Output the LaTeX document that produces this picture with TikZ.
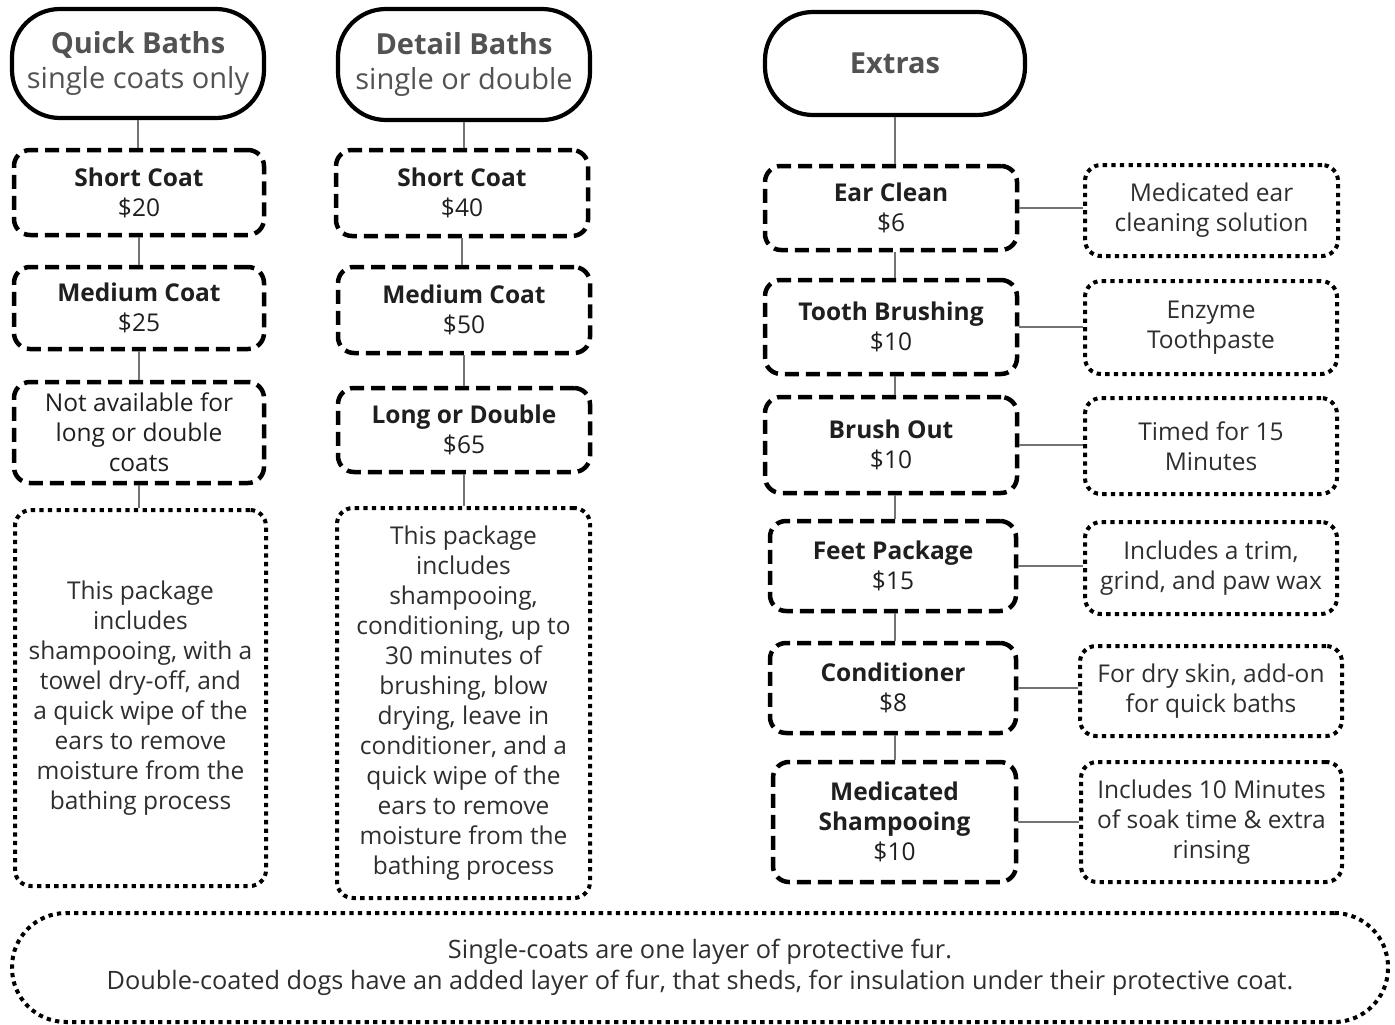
\documentclass[tikz,border=0pt]{standalone}
\usepackage{fontspec}
\setmainfont{Open Sans}
\begin{document}
\begin{tikzpicture}[x=1pt,y=-1pt,
  base/.style={align=center, inner sep=0pt, rounded corners=16pt, font=\fontsize{24.5}{30}\selectfont, text=black!88},
  titlebox/.style={base, draw=black, line width=4.2pt, rounded corners=48pt, text=black!68, font=\fontsize{29}{35}\selectfont},
  price/.style={base, draw=black, line width=4.5pt, dash pattern=on 14pt off 7pt},
  note/.style={base, draw=black, line width=4pt, dash pattern=on 4.3pt off 4.3pt, text=black!82},
  conn/.style={draw=black!55, line width=1.5pt},
  sz/.style 2 args={minimum width=#1pt, minimum height=#2pt}
]
\useasboundingbox (0,0) rectangle (1395,1025);
% column 1
\node[titlebox, sz={252}{109}] (QB) at (138,63.5) {\textbf{Quick Baths}\\[0pt]single coats only\rule[-3pt]{0pt}{0pt}};
\node[price, sz={250}{85}] (QS) at (139,192.5) {\textbf{Short Coat}\\\$20};
\node[price, sz={250}{82}] (QM) at (139,308) {\textbf{Medium Coat}\\\$25};
\node[price, sz={250}{101}] (QN) at (139,432.5) {Not available for\\long or double\\coats};
\node[note, sz={251}{376}] (QD) at (140.5,698) {This package\\includes\\shampooing, with a\\towel dry-off, and\\a quick wipe of the\\ears to remove\\moisture from the\\bathing process};
% column 2
\node[titlebox, sz={252}{111}] (DB) at (464,64.5) {\textbf{Detail Baths}\\single or double};
\node[price, sz={252}{86}] (DS) at (462,193) {\textbf{Short Coat}\\\$40};
\node[price, sz={252}{86}] (DM) at (464,310) {\textbf{Medium Coat}\\\$50};
\node[price, sz={252}{84}] (DL) at (464,430) {\textbf{Long or Double}\\\$65};
\node[note, sz={253}{390}] (DD) at (463.5,703) {This package\\includes\\shampooing,\\conditioning, up to\\30 minutes of\\brushing, blow\\drying, leave in\\conditioner, and a\\quick wipe of the\\ears to remove\\moisture from the\\bathing process};
% column 3
\node[titlebox, sz={260}{103}] (EX) at (895,63.5) {\textbf{Extras}};
\node[price, sz={252}{84}] (E1) at (891,208) {\textbf{Ear Clean}\\\$6};
\node[price, sz={252}{94}] (E2) at (891,327) {\textbf{Tooth Brushing}\\\$10};
\node[price, sz={252}{96}] (E3) at (891,445) {\textbf{Brush Out}\\\$10};
\node[price, sz={246}{90}] (E4) at (893,566) {\textbf{Feet Package}\\\$15};
\node[price, sz={246}{90}] (E5) at (893,688) {\textbf{Conditioner}\\\$8};
\node[price, sz={243}{120}] (E6) at (894.5,822) {\textbf{Medicated}\\\textbf{Shampooing}\\\$10};
% notes
\node[note, sz={253}{91}] (N1) at (1211.5,210.5) {Medicated ear\\cleaning solution};
\node[note, sz={252}{93}] (N2) at (1211,327.5) {Enzyme\\Toothpaste};
\node[note, sz={252}{96}] (N3) at (1211,446) {Timed for 15\\Minutes};
\node[note, sz={252}{92}] (N4) at (1211,568) {Includes a trim,\\grind, and paw wax};
\node[note, sz={262}{90}] (N5) at (1211,691) {For dry skin, add-on\\for quick baths};
\node[note, sz={261}{120}] (N6) at (1211.5,822) {Includes 10 Minutes\\of soak time \& extra\\rinsing};
% footer
\node[note, rounded corners=54pt, sz={1376}{109}, font=\fontsize{25.3}{31}\selectfont] (FT) at (700,967.5) {Single-coats are one layer of protective fur.\\Double-coated dogs have an added layer of fur, that sheds, for insulation under their protective coat.\rule[-4pt]{0pt}{0pt}};
% connectors
\draw[conn] (QB.south) -- (QB.south |- QS.north);
\draw[conn] (QS.south) -- (QS.south |- QM.north);
\draw[conn] (QM.south) -- (QM.south |- QN.north);
\draw[conn] (QN.south) -- (QN.south |- QD.north);
\draw[conn] (DB.south) -- (DB.south |- DS.north);
\draw[conn] (DS.south) -- (DS.south |- DM.north);
\draw[conn] (DM.south) -- (DM.south |- DL.north);
\draw[conn] (DL.south) -- (DL.south |- DD.north);
\draw[conn] (EX.south) -- (EX.south |- E1.north);
\draw[conn] (EX.south |- E1.south) -- (EX.south |- E2.north);
\draw[conn] (EX.south |- E2.south) -- (EX.south |- E3.north);
\draw[conn] (EX.south |- E3.south) -- (EX.south |- E4.north);
\draw[conn] (EX.south |- E4.south) -- (EX.south |- E5.north);
\draw[conn] (EX.south |- E5.south) -- (EX.south |- E6.north);
\draw[conn] (E1.east) -- (E1.east -| N1.west);
\draw[conn] (E2.east) -- (E2.east -| N2.west);
\draw[conn] (E3.east) -- (E3.east -| N3.west);
\draw[conn] (E4.east) -- (E4.east -| N4.west);
\draw[conn] (E5.east) -- (E5.east -| N5.west);
\draw[conn] (E6.east) -- (E6.east -| N6.west);
\end{tikzpicture}
\end{document}
